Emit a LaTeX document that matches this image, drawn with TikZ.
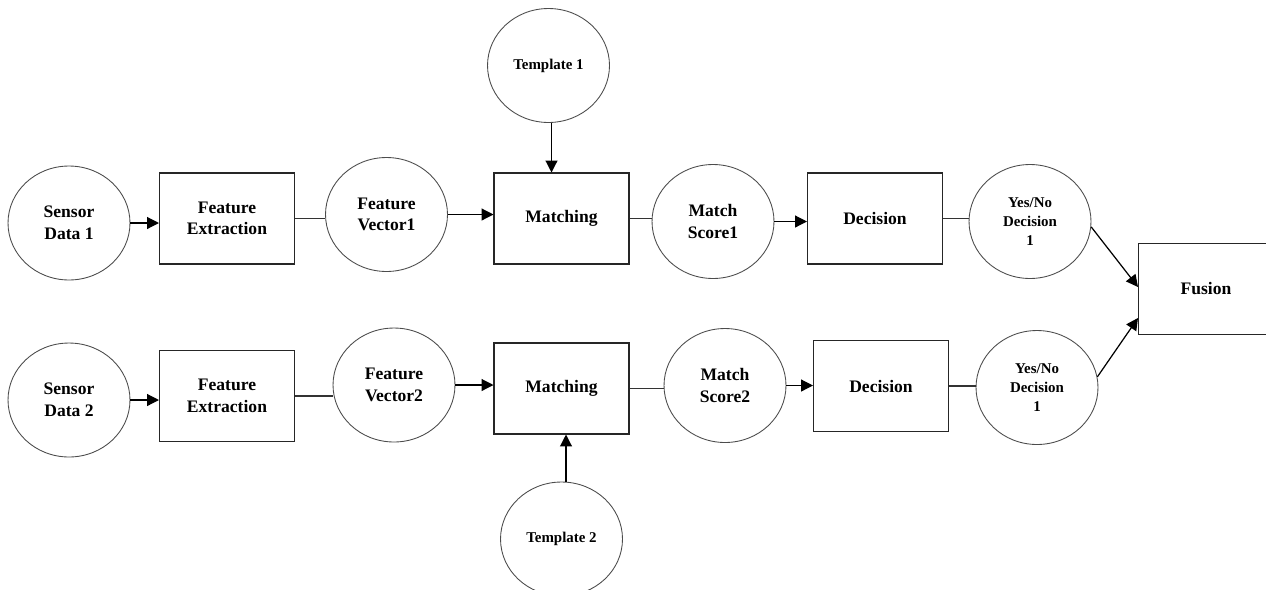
\documentclass[tikz,border=0pt]{standalone}
\usepackage{fontspec}
\setmainfont{Liberation Serif}
\usetikzlibrary{shapes.geometric,arrows.meta}

\begin{document}
\begin{tikzpicture}[x=0.02cm,y=-0.02cm,
    circ_node/.style={ellipse,draw=black!70,line width=0.5pt,minimum width=2.44cm,minimum height=2.28cm,inner sep=0pt,align=center,font=\fontsize{10}{12.3}\selectfont\bfseries},
    small_node/.style={circ_node,font=\fontsize{8.5}{10.6}\selectfont\bfseries},
    box_node/.style={rectangle,draw=black!85,line width=0.6pt,minimum width=2.7cm,minimum height=1.82cm,inner sep=0pt,align=center,font=\fontsize{10}{12.3}\selectfont\bfseries},
    arr/.style={-{Triangle[length=6.8pt,width=6.8pt]},line width=0.7pt},
    lin/.style={line width=0.6pt,draw=black!80}]

    \useasboundingbox (0,0) rectangle (1266,589);
    \clip (0,0) rectangle (1266,589);

	\node[circ_node] (1)   at (69,223) {Sensor\\Data 1};
    \node[box_node]  (2)   at (227,218.5) {Feature\\Extraction};
    \node[circ_node] (3)   at (386.5,214.5) {Feature\\Vector1};
    \node[box_node]  (4)   at (561.5,218.5) {Matching};
    \node[circ_node] (5)   at (713,221.5) {Match\\Score1};
    \node[box_node]  (6)   at (875,218.5) {Decision};
    \node[small_node] (7)  at (1030,221.5) {Yes/No\\Decision\\1};
    \node[small_node] (8)  at (548.5,65.5) {Template 1};

	\node[circ_node] (9)   at (69,400) {Sensor\\Data 2};
    \node[box_node]  (10)  at (227,396) {Feature\\Extraction};
    \node[circ_node] (11)  at (394,385) {Feature\\Vector2};
    \node[box_node]  (12)  at (561.5,388.5) {Matching};
    \node[circ_node] (13)  at (725,385.5) {Match\\Score2};
    \node[box_node]  (14)  at (881,386) {Decision};
    \node[small_node] (15) at (1037,387.5) {Yes/No\\Decision\\1};
    \node[small_node] (16) at (561.5,539) {Template 2};

    \node[box_node]  (17)  at (1206,289) {Fusion};

    % upper chain
    \draw[arr] (1) -- (1 -| 2.west);
    \draw[lin] (2.east) -- (2.east -| 3.west);
    \draw[arr] (3) -- (3 -| 4.west);
    \draw[lin] (4.east) -- (4.east -| 5.west);
    \draw[arr] (5) -- (5 -| 6.west);
    \draw[lin] (6.east) -- (6.east -| 7.west);
    \draw[arr] ([xshift=0.06cm]8.south) -- ([xshift=0.06cm]8.south |- 4.north);

    % lower chain
    \draw[arr] (9) -- (9 -| 10.west);
    \draw[lin] (10.east) -- (10.east -| 11.west);
    \draw[arr] (11) -- (11 -| 12.west);
    \draw[lin] (12.east) -- (12.east -| 13.west);
    \draw[arr] (13) -- (13 -| 14.west);
    \draw[lin] (14.east) -- (14.east -| 15.west);
    \draw[arr] ([xshift=0.09cm]16.north) -- ([xshift=0.09cm]16.north |- 12.south);

    % fusion
    \draw[arr] (7.-5) -- ([yshift=0.04cm]17.west);
    \draw[arr] (15.10) -- ([yshift=-0.58cm]17.west);

\end{tikzpicture}
\end{document}
